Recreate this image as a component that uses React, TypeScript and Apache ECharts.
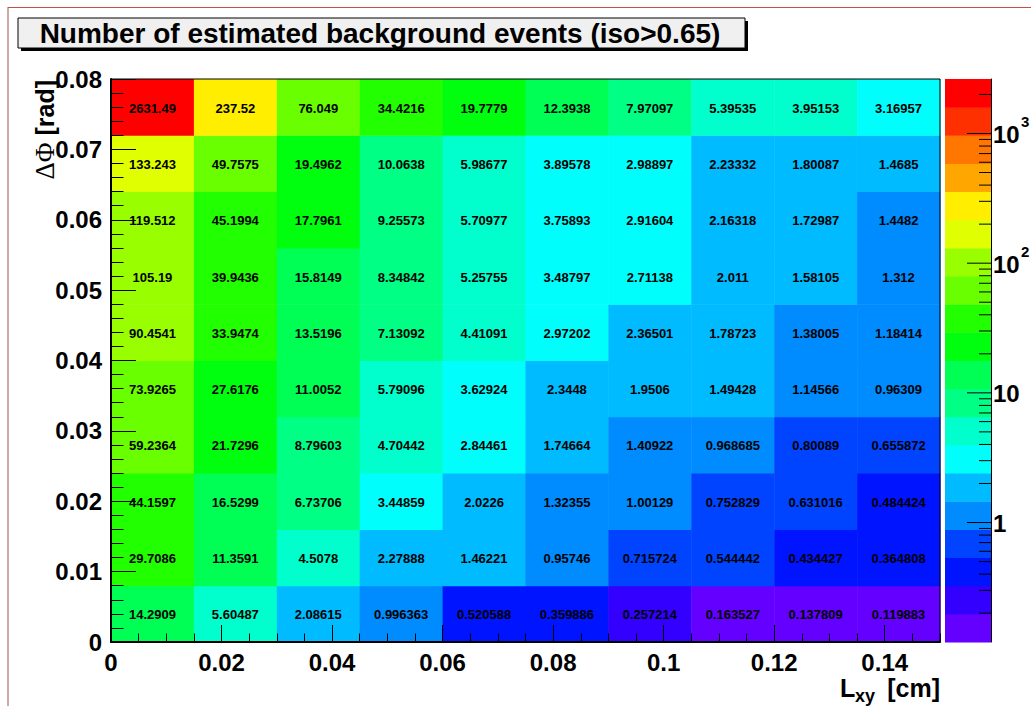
import React, { useEffect, useRef } from "react";
import * as echarts from "echarts";

// ---------- texts ----------
const TITLE = "Number of estimated background events (iso>0.65)";
const X_TITLE_MAIN = "L";
const X_TITLE_SUB = "xy";
const X_TITLE_UNIT = "[cm]";
const Y_TITLE_SYMBOL = "ΔΦ";
const Y_TITLE_UNIT = " [rad]";

// ---------- bins ----------
const X_BIN_EDGES = [0, 0.015, 0.03, 0.045, 0.06, 0.075, 0.09, 0.105, 0.12, 0.135, 0.15];
const Y_BIN_EDGES = [0, 0.008, 0.016, 0.024, 0.032, 0.04, 0.048, 0.056, 0.064, 0.072, 0.08];

// ---------- bin contents, one row per ΔΦ bin (bottom to top) ----------
const ROW_000_008 = [14.2909, 5.60487, 2.08615, 0.996363, 0.520588, 0.359886, 0.257214, 0.163527, 0.137809, 0.119883];
const ROW_008_016 = [29.7086, 11.3591, 4.5078, 2.27888, 1.46221, 0.95746, 0.715724, 0.544442, 0.434427, 0.364808];
const ROW_016_024 = [44.1597, 16.5299, 6.73706, 3.44859, 2.0226, 1.32355, 1.00129, 0.752829, 0.631016, 0.484424];
const ROW_024_032 = [59.2364, 21.7296, 8.79603, 4.70442, 2.84461, 1.74664, 1.40922, 0.968685, 0.80089, 0.655872];
const ROW_032_040 = [73.9265, 27.6176, 11.0052, 5.79096, 3.62924, 2.3448, 1.9506, 1.49428, 1.14566, 0.96309];
const ROW_040_048 = [90.4541, 33.9474, 13.5196, 7.13092, 4.41091, 2.97202, 2.36501, 1.78723, 1.38005, 1.18414];
const ROW_048_056 = [105.19, 39.9436, 15.8149, 8.34842, 5.25755, 3.48797, 2.71138, 2.011, 1.58105, 1.312];
const ROW_056_064 = [119.512, 45.1994, 17.7961, 9.25573, 5.70977, 3.75893, 2.91604, 2.16318, 1.72987, 1.4482];
const ROW_064_072 = [133.243, 49.7575, 19.4962, 10.0638, 5.98677, 3.89578, 2.98897, 2.23332, 1.80087, 1.4685];
const ROW_072_080 = [2631.49, 237.52, 76.049, 34.4216, 19.7779, 12.3938, 7.97097, 5.39535, 3.95153, 3.16957];

const ROWS = [
  ROW_000_008, ROW_008_016, ROW_016_024, ROW_024_032, ROW_032_040,
  ROW_040_048, ROW_048_056, ROW_056_064, ROW_064_072, ROW_072_080,
];

// ---------- colour bar ----------
const N_CONTOURS = 20;
const PALETTE = [
  "#6300FF", "#3300FF", "#0014FF", "#0044FF", "#008BFF",
  "#00BBFF", "#00FFFC", "#00FFCC", "#00FF85", "#00FF55",
  "#00FF0E", "#22FF00", "#69FF00", "#99FF00", "#E0FF00",
  "#FFEE00", "#FFA700", "#FF7700", "#FF3000", "#FF0000",
];
const COLORBAR_DECADES = [0.1, 1, 10, 100, 1000];
const COLORBAR_MANTISSAS = [1, 2, 3, 4, 5, 6, 7, 8, 9];
const COLORBAR_LABELS = [
  { value: 1, base: "1", exp: "" },
  { value: 10, base: "10", exp: "" },
  { value: 100, base: "10", exp: "2" },
  { value: 1000, base: "10", exp: "3" },
];

const FONT = '"Liberation Sans", Arial, Helvetica, sans-serif';
const SERIF = '"Liberation Serif", "Times New Roman", serif';

export default function App() {
  const ref = useRef<HTMLDivElement>(null);

  useEffect(() => {
    if (!ref.current) return;
    const chart = echarts.init(ref.current, undefined, { renderer: "svg" });

    const allValues = ROWS.flat();
    const L0 = Math.log10(Math.min(...allValues));
    const L1 = Math.log10(Math.max(...allValues));
    const bandOf = (v: number) => {
      let k = Math.floor(0.01 + ((Math.log10(v) - L0) * N_CONTOURS) / (L1 - L0));
      if (k < 0) k = 0;
      if (k > N_CONTOURS - 1) k = N_CONTOURS - 1;
      return k;
    };

    const cellData: number[][] = [];
    ROWS.forEach((row, j) =>
      row.forEach((v, i) => {
        cellData.push([X_BIN_EDGES[i], X_BIN_EDGES[i + 1], Y_BIN_EDGES[j], Y_BIN_EDGES[j + 1], v]);
      })
    );

    const bandData = PALETTE.map((_, k) => [k]);

    const tickData: number[][] = [];
    COLORBAR_DECADES.forEach((d) =>
      COLORBAR_MANTISSAS.forEach((m) => {
        const lv = Math.log10(m * d);
        if (lv >= L0 - 1e-9 && lv <= L1 + 1e-9) tickData.push([lv, m === 1 ? 1 : 0]);
      })
    );

    const labelData = COLORBAR_LABELS.map((l, i) => [Math.log10(l.value), i]);

    const tickLabelStyle = {
      fontSize: 24,
      fontWeight: "bold" as const,
      fontFamily: FONT,
      color: "#000",
    };

    const option: any = {
      animation: false,
      backgroundColor: "#ffffff",
      grid: [
        {
          left: 111, top: 79, width: 829, height: 563,
          show: true, borderColor: "#000", borderWidth: 1,
          backgroundColor: "transparent", z: 10,
        },
        { left: 945, top: 79, width: 46, height: 563, show: false },
      ],
      xAxis: [
        {
          gridIndex: 0, type: "value", min: 0, max: 0.15, interval: 0.02, position: "bottom", z: 10,
          axisLine: { show: true, onZero: false, lineStyle: { color: "#000", width: 2 } },
          axisTick: { show: true, inside: true, length: 17, lineStyle: { color: "#000", width: 1 } },
          axisLabel: { ...tickLabelStyle, margin: 8, showMaxLabel: false },
          splitLine: { show: false },
        },
        {
          gridIndex: 0, type: "value", min: 0, max: 0.15, interval: 0.005, position: "bottom", z: 10,
          axisLine: { show: false, onZero: false },
          axisTick: { show: true, inside: true, length: 8.5, lineStyle: { color: "#000", width: 1 } },
          axisLabel: { show: false },
          splitLine: { show: false },
        },
        {
          gridIndex: 1, type: "value", min: 0, max: 1, show: false,
        },
      ],
      yAxis: [
        {
          gridIndex: 0, type: "value", min: 0, max: 0.08, interval: 0.01, position: "left", z: 10,
          axisLine: { show: true, onZero: false, lineStyle: { color: "#000", width: 2 } },
          axisTick: { show: true, inside: true, length: 25, lineStyle: { color: "#000", width: 1 } },
          axisLabel: { ...tickLabelStyle, margin: 9 },
          splitLine: { show: false },
        },
        {
          gridIndex: 0, type: "value", min: 0, max: 0.08, interval: 0.002, position: "left", z: 10,
          axisLine: { show: false, onZero: false },
          axisTick: { show: true, inside: true, length: 12.5, lineStyle: { color: "#000", width: 1 } },
          axisLabel: { show: false },
          splitLine: { show: false },
        },
        {
          gridIndex: 1, type: "value", min: L0, max: L1, position: "right", z: 10,
          axisLine: { show: true, onZero: false, lineStyle: { color: "#000", width: 1 } },
          axisTick: { show: false },
          axisLabel: { show: false },
          splitLine: { show: false },
        },
      ],
      series: [
        {
          type: "custom",
          name: "cells",
          xAxisIndex: 0,
          yAxisIndex: 0,
          data: cellData,
          encode: { x: [0, 1], y: [2, 3] },
          z: 2,
          renderItem: (params: any, api: any) => {
            const x0 = api.value(0), x1 = api.value(1), y0 = api.value(2), y1 = api.value(3);
            const v = api.value(4);
            const p0 = api.coord([x0, y1]);
            const p1 = api.coord([x1, y0]);
            return {
              type: "group",
              children: [
                {
                  type: "rect",
                  shape: { x: p0[0], y: p0[1], width: p1[0] - p0[0] + 0.5, height: p1[1] - p0[1] + 0.5 },
                  style: { fill: PALETTE[bandOf(v)] },
                },
                {
                  type: "text",
                  x: (p0[0] + p1[0]) / 2,
                  y: (p0[1] + p1[1]) / 2 + 1,
                  style: {
                    text: String(v),
                    fill: "#000",
                    fontSize: 13,
                    fontWeight: "bold",
                    fontFamily: FONT,
                    align: "center",
                    verticalAlign: "middle",
                    textAlign: "center",
                    textVerticalAlign: "middle",
                  },
                },
              ],
            };
          },
        },
        {
          type: "custom",
          name: "colorbar",
          xAxisIndex: 2,
          yAxisIndex: 2,
          data: bandData,
          z: 2,
          renderItem: (params: any, api: any) => {
            const k = api.value(0);
            const d = (L1 - L0) / N_CONTOURS;
            const p0 = api.coord([0, L0 + (k + 1) * d]);
            const p1 = api.coord([1, L0 + k * d]);
            return {
              type: "rect",
              shape: { x: p0[0], y: p0[1], width: p1[0] - p0[0], height: p1[1] - p0[1] + 0.5 },
              style: { fill: PALETTE[k] },
            };
          },
        },
        {
          type: "custom",
          name: "colorbar ticks",
          xAxisIndex: 2,
          yAxisIndex: 2,
          data: tickData,
          z: 5,
          renderItem: (params: any, api: any) => {
            const p = api.coord([1, api.value(0)]);
            const len = api.value(1) ? 24 : 12;
            return {
              type: "line",
              shape: { x1: p[0] - len, y1: p[1], x2: p[0], y2: p[1] },
              style: { stroke: "#000", lineWidth: 1 },
            };
          },
        },
        {
          type: "custom",
          name: "colorbar labels",
          xAxisIndex: 2,
          yAxisIndex: 2,
          data: labelData,
          z: 5,
          renderItem: (params: any, api: any) => {
            const p = api.coord([1, api.value(0)]);
            const lab = COLORBAR_LABELS[api.value(1)];
            const children: any[] = [
              {
                type: "text",
                x: p[0] + 2,
                y: p[1] + 1,
                style: {
                  text: lab.base, fill: "#000", fontSize: 24, fontWeight: "bold", fontFamily: FONT,
                  align: "left", verticalAlign: "middle", textAlign: "left", textVerticalAlign: "middle",
                },
              },
            ];
            if (lab.exp) {
              children.push({
                type: "text",
                x: p[0] + 30,
                y: p[1] - 12,
                style: {
                  text: lab.exp, fill: "#000", fontSize: 15, fontWeight: "bold", fontFamily: FONT,
                  align: "left", verticalAlign: "middle", textAlign: "left", textVerticalAlign: "middle",
                },
              });
            }
            return { type: "group", children };
          },
        },
      ],
      graphic: {
        elements: [
          { type: "line", shape: { x1: 8, y1: 7.5, x2: 1031, y2: 7.5 }, style: { stroke: "#cc4a4a", lineWidth: 1 }, z: 1 },
          { type: "line", shape: { x1: 8, y1: 7, x2: 8, y2: 706 }, style: { stroke: "#9c524c", lineWidth: 1 }, z: 1 },
          { type: "rect", shape: { x: 21, y: 21, width: 727, height: 30 }, style: { fill: "#000" }, z: 20 },
          { type: "rect", shape: { x: 18, y: 18, width: 727, height: 30 }, style: { fill: "#f0f0f0", stroke: "#000", lineWidth: 1 }, z: 21 },
          {
            type: "text", x: 380, y: 33, z: 22,
            style: {
              text: TITLE, fill: "#000", fontSize: 28, fontWeight: "bold", fontFamily: FONT,
              align: "center", verticalAlign: "middle", textAlign: "center", textVerticalAlign: "middle",
            },
          },
          {
            type: "text", x: 45, y: 80, rotation: Math.PI / 2, z: 22,
            style: {
              text: "{s|" + Y_TITLE_SYMBOL + "}{b|" + Y_TITLE_UNIT + "}",
              rich: {
                s: { fontSize: 27, fontFamily: SERIF, fontWeight: "normal", fill: "#000" },
                b: { fontSize: 25, fontFamily: FONT, fontWeight: "bold", fill: "#000" },
              },
              align: "right", verticalAlign: "middle", textAlign: "right", textVerticalAlign: "middle",
            },
          },
          {
            type: "text", x: 840, y: 688, z: 22,
            style: {
              text: X_TITLE_MAIN, fill: "#000", fontSize: 25, fontWeight: "bold", fontFamily: FONT,
              align: "left", verticalAlign: "middle", textAlign: "left", textVerticalAlign: "middle",
            },
          },
          {
            type: "text", x: 855, y: 696, z: 22,
            style: {
              text: X_TITLE_SUB, fill: "#000", fontSize: 18, fontWeight: "bold", fontFamily: FONT,
              align: "left", verticalAlign: "middle", textAlign: "left", textVerticalAlign: "middle",
            },
          },
          {
            type: "text", x: 940, y: 688, z: 22,
            style: {
              text: X_TITLE_UNIT, fill: "#000", fontSize: 25, fontWeight: "bold", fontFamily: FONT,
              align: "right", verticalAlign: "middle", textAlign: "right", textVerticalAlign: "middle",
            },
          },
        ],
      },
    };

    chart.setOption(option);
    return () => {
      chart.dispose();
    };
  }, []);

  return (
    <div
      ref={ref}
      style={{ position: "fixed", left: 0, top: 0, width: 1031, height: 706, background: "#fff" }}
    />
  );
}
